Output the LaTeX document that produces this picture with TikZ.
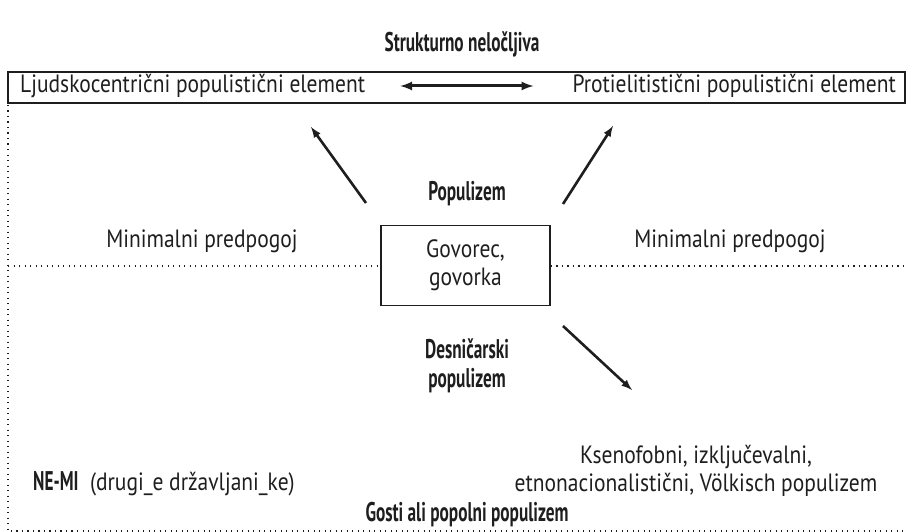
\documentclass[tikz,border=0pt]{standalone}
\usepackage{fontspec}
\setmainfont{PT Sans}[FakeStretch=0.86]
\newfontfamily\headfont{PT Sans}[FakeStretch=0.64]
\usetikzlibrary{positioning}
\pgfdeclarelayer{edgelayer}
\pgfdeclarelayer{nodelayer}
\pgfsetlayers{edgelayer,nodelayer,main}
\definecolor{ink}{HTML}{1E1E1E}
\newcommand{\headtext}{\headfont\fontsize{27}{29}\selectfont\bfseries}
\tikzstyle{label}=[text=ink,font=\fontsize{25}{28}\selectfont,align=center,inner sep=0pt]
\tikzstyle{heading}=[label,font=\headtext]
\tikzstyle{speaker}=[draw=ink,line width=1.4pt,minimum width=169pt,minimum height=80pt,inner sep=0pt]
\tikzstyle{frame}=[draw=ink,line width=2.4pt,minimum width=897pt,minimum height=31pt,inner sep=0pt]
\tikzstyle{transition}=[-latex,draw=ink,line width=2.6pt]
\tikzstyle{border}=[draw=ink,line width=1.3pt,dash pattern=on 1.3pt off 4.2pt]

\begin{document}
\begin{tikzpicture}[x=1pt,y=-1pt]
	\useasboundingbox (0,0) rectangle (907,532);
	\begin{pgfonlayer}{nodelayer}
		\node [style=heading] (0) at (462,44) {Strukturno nelo\v{c}ljiva};
		\node [style=frame] (1) at (456.5,87.5) {};
		\node [style=label,anchor=west] (2) at (20,86) {Ljudskocentri\v{c}ni populisti\v{c}ni element};
		\node [style=label,anchor=east] (3) at (896,86) {Protielitisti\v{c}ni populisti\v{c}ni element};
		\node [style=heading] (4) at (467,194) {Populizem};
		\node [style=label] (5) at (202,241) {Minimalni predpogoj};
		\node [style=label] (6) at (730,241) {Minimalni predpogoj};
		\node [style=speaker,label] (7) at (465.5,265.5) {Govorec,\\govorka};
		\node [style=heading] (8) at (467,366) {Desni\v{c}arski\\populizem};
		\node [style=label] (9) at (696,471) {Ksenofobni, izklju\v{c}evalni,\\etnonacionalisti\v{c}ni, V\"olkisch populizem};
		\node [style=label,anchor=west] (10) at (33,484) {{\headtext NE-MI}\ \ (drugi\_e dr\v{z}avljani\_ke)};
		\node [style=heading] (11) at (467,515) {Gosti ali popolni populizem};
		\coordinate (a) at (366,203);
		\coordinate (b) at (311,127);
		\coordinate (c) at (563,204);
		\coordinate (d) at (613,126);
		\coordinate (e) at (563,326);
		\coordinate (f) at (632,390);
		\coordinate (g) at (8,105);
		\coordinate (h) at (8,531);
		\coordinate (k) at (907,531);
		\coordinate (l) at (8,266);
		\coordinate (m) at (907,266);
	\end{pgfonlayer}
	\begin{pgfonlayer}{edgelayer}
		\draw [style=transition, latex-latex, line width=3pt, shorten <=35pt, shorten >=39pt] (2) to (3);
		\draw [style=transition] (a) to (b);
		\draw [style=transition] (c) to (d);
		\draw [style=transition] (e) to (f);
		\draw [style=border] (g) to (h) to (k);
		\draw [style=border] (l) to (7.west |- l);
		\draw [style=border] (7.east |- m) to (m);
	\end{pgfonlayer}
\end{tikzpicture}
\end{document}
